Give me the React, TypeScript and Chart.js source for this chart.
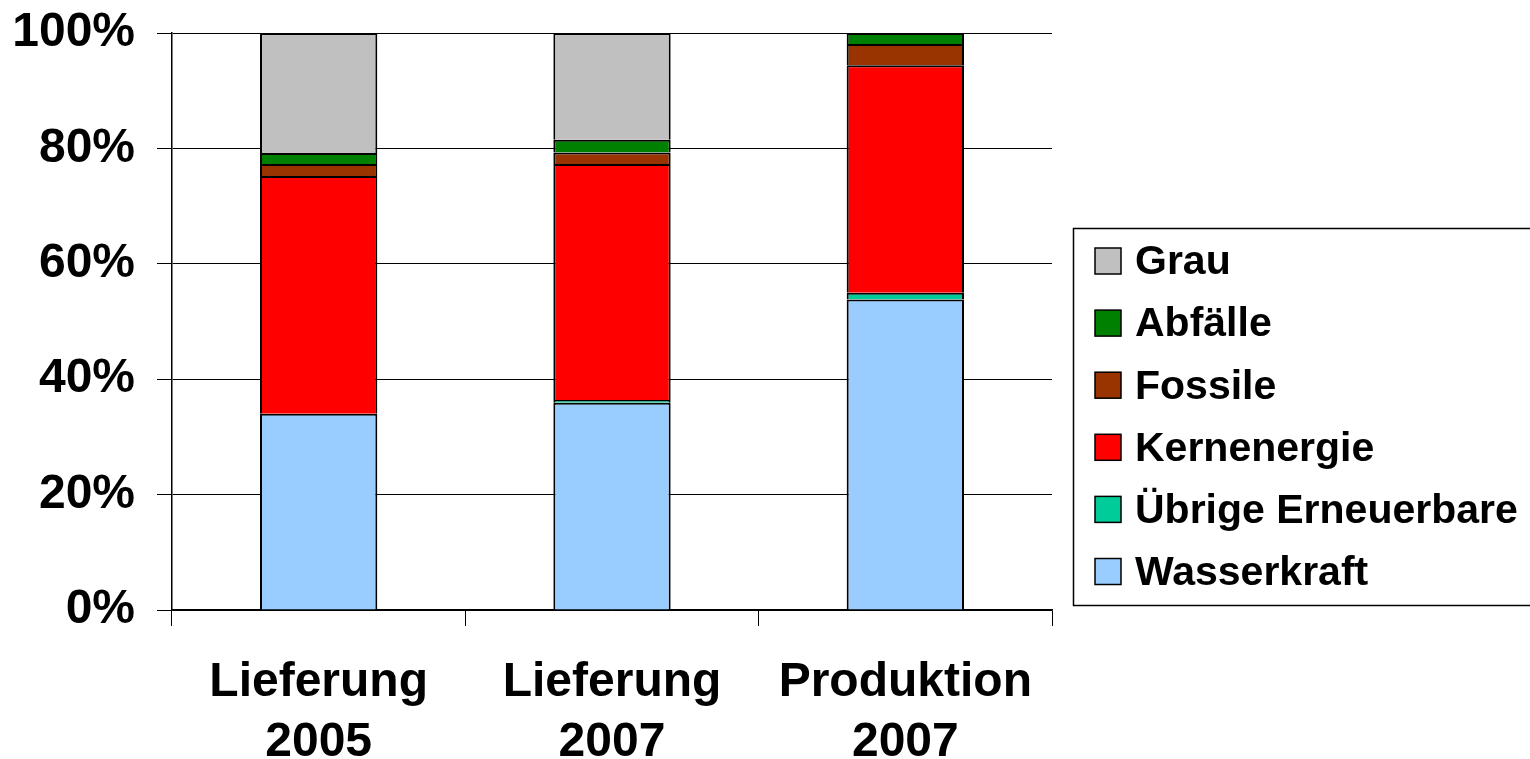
import React, { useEffect, useRef } from "react";
import { Chart, registerables } from "chart.js";

Chart.register(...registerables);

const categories: string[][] = [
  ["Lieferung", "2005"],
  ["Lieferung", "2007"],
  ["Produktion", "2007"],
];

const wasserkraft = [34.0, 35.9, 53.8];
const uebrigeErneuerbare = [0, 0.5, 1.2];
const kernenergie = [41.2, 40.9, 39.4];
const fossile = [2.1, 2.0, 3.7];
const abfaelle = [1.9, 2.2, 1.9];
const grau = [20.8, 18.5, 0];

const yTicks = [0, 20, 40, 60, 80, 100];

const FONT = "'Liberation Sans', Arial, Helvetica, sans-serif";

// Boxed legend to the right of the plot, listing series top-down (reverse stack order)
const boxedLegend = {
  id: "boxedLegend",
  afterDraw(chart: Chart) {
    const ctx = chart.ctx;
    const left = 1073;
    const top = 228;
    const bottom = 605;
    ctx.save();
    ctx.strokeStyle = "#000";
    ctx.lineWidth = 1.5;
    ctx.strokeRect(left + 0.5, top + 0.5, 1530, bottom - top);
    const items = chart.data.datasets.slice().reverse();
    ctx.font = `bold 41px ${FONT}`;
    ctx.textBaseline = "middle";
    ctx.textAlign = "left";
    items.forEach((ds: any, i: number) => {
      const cy = 261 + i * 62.1;
      ctx.fillStyle = ds.backgroundColor;
      ctx.fillRect(1095, cy - 13, 26, 26);
      ctx.strokeStyle = "#000";
      ctx.lineWidth = 1.5;
      ctx.strokeRect(1095, cy - 13, 26, 26);
      ctx.fillStyle = "#000";
      ctx.fillText(ds.label, 1135, cy + 2);
    });
    ctx.restore();
  },
};

export default function App() {
  const ref = useRef<HTMLCanvasElement | null>(null);

  useEffect(() => {
    if (!ref.current) return;
    const mk = (label: string, data: number[], color: string) => ({
      label,
      data,
      backgroundColor: color,
      borderColor: "#000",
      borderWidth: 2,
      categoryPercentage: 1,
      barPercentage: 0.4,
    });
    const chart = new Chart(ref.current, {
      type: "bar",
      data: {
        labels: categories,
        datasets: [
          mk("Wasserkraft", wasserkraft, "#99CCFF"),
          mk("Übrige Erneuerbare", uebrigeErneuerbare, "#00CC99"),
          mk("Kernenergie", kernenergie, "#FF0000"),
          mk("Fossile", fossile, "#993300"),
          mk("Abfälle", abfaelle, "#008000"),
          mk("Grau", grau, "#C0C0C0"),
        ],
      },
      options: {
        responsive: false,
        animation: false,
        layout: { padding: { top: 33, right: 478, left: 0, bottom: 0 } },
        plugins: {
          legend: { display: false },
          tooltip: { enabled: false },
        },
        scales: {
          x: {
            stacked: true,
            offset: true,
            grid: {
              offset: true,
              drawOnChartArea: false,
              drawTicks: true,
              tickLength: 16,
              color: "#000",
              lineWidth: 1,
            },
            border: { display: true, color: "#000", width: 1.5 },
            ticks: {
              color: "#000",
              padding: 27,
              maxRotation: 0,
              autoSkip: false,
              font: { family: FONT, size: 48, weight: "bold", lineHeight: 1.25 },
            },
            afterFit: (s: any) => {
              s.height = 149;
              s.paddingLeft = 0;
              s.paddingRight = 0;
            },
          },
          y: {
            stacked: true,
            min: 0,
            max: 100,
            afterBuildTicks: (s: any) => {
              s.ticks = yTicks.map((v) => ({ value: v }));
            },
            grid: {
              color: "#000",
              lineWidth: 1,
              drawTicks: true,
              tickLength: 15,
            },
            border: { display: true, color: "#000", width: 1.5 },
            ticks: {
              color: "#000",
              padding: 22,
              font: { family: FONT, size: 48, weight: "bold" },
              callback: (v: any) => `${v}%`,
            },
            afterFit: (s: any) => {
              s.width = 172;
              s.paddingTop = 0;
              s.paddingBottom = 0;
            },
          },
        },
      },
      plugins: [boxedLegend],
    });
    return () => chart.destroy();
  }, []);

  return (
    <div style={{ position: "absolute", left: 0, top: 0, width: 1530, height: 759, background: "#fff" }}>
      <canvas ref={ref} width={1530} height={759} />
    </div>
  );
}
